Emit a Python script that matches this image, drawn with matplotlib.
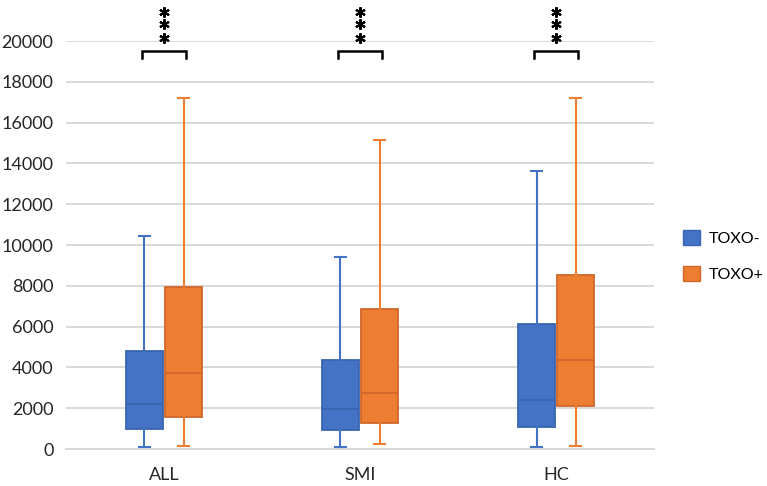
import matplotlib.pyplot as plt
from matplotlib.patches import Patch

groups = ['ALL', 'SMI', 'HC']
series = ['TOXO-', 'TOXO+']

# five-number summaries: whislo, q1, med, q3, whishi
neg_lo = [100, 100, 110]
neg_q1 = [980, 930, 1090]
neg_med = [2220, 1950, 2400]
neg_q3 = [4820, 4350, 6140]
neg_hi = [10450, 9430, 13640]

pos_lo = [130, 260, 150]
pos_q1 = [1570, 1260, 2120]
pos_med = [3710, 2760, 4350]
pos_q3 = [7960, 6860, 8540]
pos_hi = [17190, 15150, 17190]

stars = ['***', '***', '***']

blue = '#4472C4'
blue_edge = '#3A64B0'
orange = '#ED7D31'
orange_edge = '#D0672A'

plt.rcParams['font.family'] = ['Lato', 'DejaVu Sans']

fig = plt.figure(figsize=(7.67, 4.86), dpi=100)
ax = fig.add_axes([0.086, 0.076, 0.767, 0.8395])


def make_stats(lo, q1, med, q3, hi):
    return [dict(whislo=a, q1=b, med=c, q3=d, whishi=e, fliers=[])
            for a, b, c, d, e in zip(lo, q1, med, q3, hi)]


offset = 0.1
width = 0.19
for stats, dx, face, edge in [
    (make_stats(neg_lo, neg_q1, neg_med, neg_q3, neg_hi), -offset, blue, blue_edge),
    (make_stats(pos_lo, pos_q1, pos_med, pos_q3, pos_hi), offset, orange, orange_edge),
]:
    ax.bxp(stats, positions=[i + dx for i in range(len(groups))],
           widths=width, capwidths=0.055, patch_artist=True, showfliers=False,
           boxprops=dict(facecolor=face, edgecolor=edge, linewidth=1.3),
           medianprops=dict(color=edge, linewidth=1.3),
           whiskerprops=dict(color=face, linewidth=1.5),
           capprops=dict(color=face, linewidth=1.5),
           manage_ticks=False, zorder=3)

# significance brackets and stars
for i, s in enumerate(stars):
    x0, x1 = i - 0.112, i + 0.112
    ax.plot([x0, x0, x1, x1], [19170, 19510, 19510, 19170], color='black',
            lw=1.8, clip_on=False, solid_joinstyle='miter', zorder=4)
    ys = [20160, 20830, 21440][:len(s)]
    ax.plot([i] * len(ys), ys, linestyle='none', marker=(6, 2, 0),
            markersize=7.5, mew=1.5, color='black', clip_on=False, zorder=4)

ax.set_xlim(-0.5, len(groups) - 0.5)
ax.set_ylim(0, 20000)
ax.set_yticks(range(0, 20001, 2000))
ax.set_xticks(range(len(groups)))
ax.set_xticklabels(groups)
ax.tick_params(axis='both', length=0, labelsize=13, colors='#262626')
ax.tick_params(axis='y', pad=9)
ax.tick_params(axis='x', pad=13)
ax.grid(axis='y', color='#D9D9D9', linewidth=1.4)
ax.set_axisbelow(True)
for side in ['top', 'right', 'left']:
    ax.spines[side].set_visible(False)
ax.spines['bottom'].set_color('#D9D9D9')
ax.spines['bottom'].set_linewidth(1.4)

handles = [Patch(facecolor=blue, edgecolor=blue_edge, label=series[0]),
           Patch(facecolor=orange, edgecolor=orange_edge, label=series[1])]
fig.legend(handles=handles, loc='upper left', bbox_to_anchor=(0.891, 0.527),
           frameon=False, fontsize=11.5, handlelength=1.05, handleheight=1.05,
           labelspacing=1.25, handletextpad=0.55, borderaxespad=0, borderpad=0)

fig.savefig('out.png', dpi=100)
